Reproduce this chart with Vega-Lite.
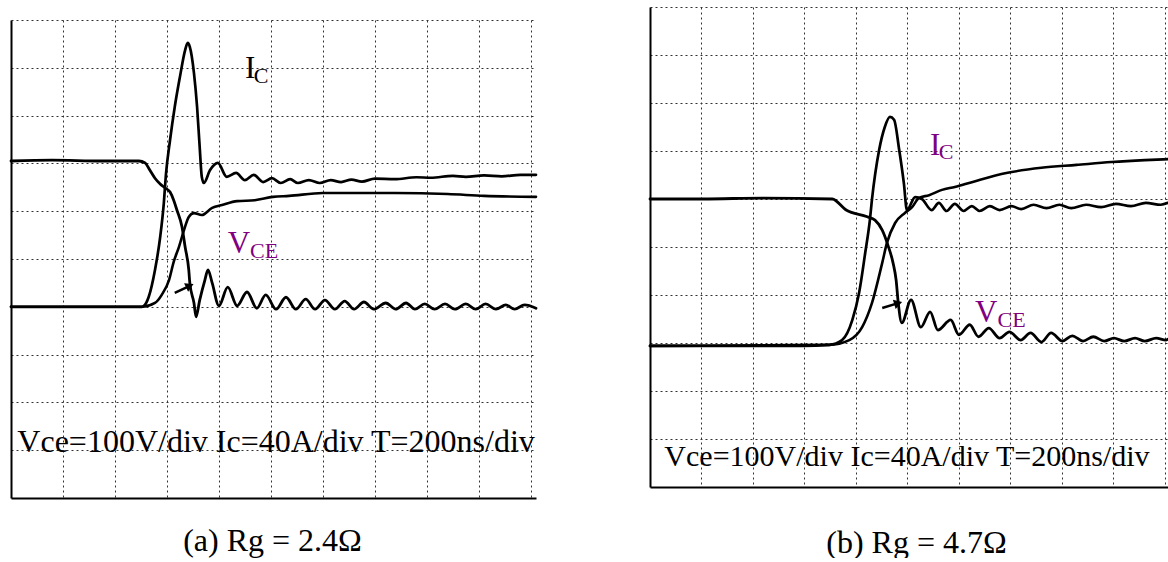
{
"$schema": "https://vega.github.io/schema/vega-lite/v6.json",
"background": "white",
"padding": {"left": 9, "top": 7, "right": 0, "bottom": 0},
"autosize": {"type": "pad"},
"spacing": 110,
"config": {"view": {"stroke": null}, "font": "Liberation Serif"},
"datasets": {
"trace": [
{"p":"a","s":"A","t":0,"v":7.05},{"p":"a","s":"A","t":0.79,"v":7.07},{"p":"a","s":"A","t":1.75,"v":7.05},{"p":"a","s":"A","t":2.46,"v":7.05},{"p":"a","s":"A","t":2.58,"v":7.01},{"p":"a","s":"A","t":2.67,"v":6.86},{"p":"a","s":"A","t":2.77,"v":6.69},{"p":"a","s":"A","t":2.87,"v":6.57},{"p":"a","s":"A","t":2.96,"v":6.49},{"p":"a","s":"A","t":3.06,"v":6.40},{"p":"a","s":"A","t":3.13,"v":6.23},{"p":"a","s":"A","t":3.19,"v":6.03},{"p":"a","s":"A","t":3.29,"v":5.67},{"p":"a","s":"A","t":3.35,"v":5.25},{"p":"a","s":"A","t":3.42,"v":4.77},{"p":"a","s":"A","t":3.44,"v":4.50},{"p":"a","s":"A","t":3.52,"v":4.08},{"p":"a","s":"A","t":3.56,"v":3.79},{"p":"a","s":"A","t":3.63,"v":4.14},{"p":"a","s":"A","t":3.73,"v":4.56},{"p":"a","s":"A","t":3.79,"v":4.77},{"p":"a","s":"A","t":3.87,"v":4.50},{"p":"a","s":"A","t":4.00,"v":4.02},{"p":"a","s":"A","t":4.17,"v":4.41},{"p":"a","s":"A","t":4.35,"v":4.02},{"p":"a","s":"A","t":4.54,"v":4.31},{"p":"a","s":"A","t":4.73,"v":3.97},{"p":"a","s":"A","t":4.90,"v":4.25},{"p":"a","s":"A","t":5.10,"v":3.95},{"p":"a","s":"A","t":5.29,"v":4.20},{"p":"a","s":"A","t":5.48,"v":3.95},{"p":"a","s":"A","t":5.67,"v":4.16},{"p":"a","s":"A","t":5.85,"v":3.95},{"p":"a","s":"A","t":6.04,"v":4.14},{"p":"a","s":"A","t":6.23,"v":3.95},{"p":"a","s":"A","t":6.42,"v":4.12},{"p":"a","s":"A","t":6.60,"v":3.95},{"p":"a","s":"A","t":6.79,"v":4.10},{"p":"a","s":"A","t":6.98,"v":3.95},{"p":"a","s":"A","t":7.21,"v":4.08},{"p":"a","s":"A","t":7.40,"v":3.95},{"p":"a","s":"A","t":7.60,"v":4.08},{"p":"a","s":"A","t":7.77,"v":3.95},{"p":"a","s":"A","t":7.96,"v":4.06},{"p":"a","s":"A","t":8.15,"v":3.95},{"p":"a","s":"A","t":8.35,"v":4.06},{"p":"a","s":"A","t":8.54,"v":3.95},{"p":"a","s":"A","t":8.75,"v":4.06},{"p":"a","s":"A","t":8.94,"v":3.95},{"p":"a","s":"A","t":9.13,"v":4.06},{"p":"a","s":"A","t":9.33,"v":3.95},{"p":"a","s":"A","t":9.52,"v":4.04},{"p":"a","s":"A","t":9.69,"v":3.95},{"p":"a","s":"A","t":9.88,"v":4.04},{"p":"a","s":"A","t":10.10,"v":3.97},
{"p":"a","s":"B","t":0,"v":4.00},{"p":"a","s":"B","t":1.75,"v":4.00},{"p":"a","s":"B","t":2.52,"v":4.00},{"p":"a","s":"B","t":2.56,"v":4.02},{"p":"a","s":"B","t":2.65,"v":4.21},{"p":"a","s":"B","t":2.77,"v":4.77},{"p":"a","s":"B","t":2.87,"v":5.46},{"p":"a","s":"B","t":2.94,"v":6.17},{"p":"a","s":"B","t":2.98,"v":6.76},{"p":"a","s":"B","t":3.06,"v":7.49},{"p":"a","s":"B","t":3.15,"v":8.18},{"p":"a","s":"B","t":3.25,"v":8.81},{"p":"a","s":"B","t":3.35,"v":9.37},{"p":"a","s":"B","t":3.40,"v":9.52},{"p":"a","s":"B","t":3.44,"v":9.44},{"p":"a","s":"B","t":3.52,"v":8.89},{"p":"a","s":"B","t":3.58,"v":8.18},{"p":"a","s":"B","t":3.63,"v":7.34},{"p":"a","s":"B","t":3.67,"v":6.72},{"p":"a","s":"B","t":3.71,"v":6.59},{"p":"a","s":"B","t":3.83,"v":6.86},{"p":"a","s":"B","t":3.98,"v":7.01},{"p":"a","s":"B","t":4.15,"v":6.72},{"p":"a","s":"B","t":4.33,"v":6.80},{"p":"a","s":"B","t":4.50,"v":6.65},{"p":"a","s":"B","t":4.67,"v":6.76},{"p":"a","s":"B","t":4.85,"v":6.61},{"p":"a","s":"B","t":5.02,"v":6.69},{"p":"a","s":"B","t":5.19,"v":6.59},{"p":"a","s":"B","t":5.37,"v":6.67},{"p":"a","s":"B","t":5.52,"v":6.59},{"p":"a","s":"B","t":5.73,"v":6.65},{"p":"a","s":"B","t":5.94,"v":6.59},{"p":"a","s":"B","t":6.15,"v":6.65},{"p":"a","s":"B","t":6.35,"v":6.61},{"p":"a","s":"B","t":6.55,"v":6.66},{"p":"a","s":"B","t":6.75,"v":6.62},{"p":"a","s":"B","t":7.00,"v":6.68},{"p":"a","s":"B","t":7.38,"v":6.67},{"p":"a","s":"B","t":7.80,"v":6.71},{"p":"a","s":"B","t":8.08,"v":6.70},{"p":"a","s":"B","t":8.50,"v":6.74},{"p":"a","s":"B","t":8.75,"v":6.72},{"p":"a","s":"B","t":9.10,"v":6.75},{"p":"a","s":"B","t":9.44,"v":6.73},{"p":"a","s":"B","t":9.80,"v":6.76},{"p":"a","s":"B","t":10.10,"v":6.76},
{"p":"a","s":"C","t":0,"v":4.00},{"p":"a","s":"C","t":2.52,"v":4.00},{"p":"a","s":"C","t":2.77,"v":4.08},{"p":"a","s":"C","t":2.90,"v":4.25},{"p":"a","s":"C","t":3.04,"v":4.56},{"p":"a","s":"C","t":3.13,"v":4.94},{"p":"a","s":"C","t":3.23,"v":5.25},{"p":"a","s":"C","t":3.33,"v":5.61},{"p":"a","s":"C","t":3.42,"v":5.88},{"p":"a","s":"C","t":3.52,"v":5.96},{"p":"a","s":"C","t":3.67,"v":5.92},{"p":"a","s":"C","t":3.87,"v":6.07},{"p":"a","s":"C","t":4.06,"v":6.13},{"p":"a","s":"C","t":4.35,"v":6.21},{"p":"a","s":"C","t":4.69,"v":6.23},{"p":"a","s":"C","t":5.04,"v":6.30},{"p":"a","s":"C","t":5.35,"v":6.32},{"p":"a","s":"C","t":6.00,"v":6.38},{"p":"a","s":"C","t":6.69,"v":6.38},{"p":"a","s":"C","t":7.38,"v":6.38},{"p":"a","s":"C","t":8.40,"v":6.36},{"p":"a","s":"C","t":9.10,"v":6.32},{"p":"a","s":"C","t":10.10,"v":6.30},
{"p":"b","s":"A","t":0,"v":6.00},{"p":"b","s":"A","t":1.03,"v":6.00},{"p":"b","s":"A","t":2.19,"v":6.02},{"p":"b","s":"A","t":3.54,"v":6.00},{"p":"b","s":"A","t":3.81,"v":5.77},{"p":"b","s":"A","t":4.22,"v":5.63},{"p":"b","s":"A","t":4.37,"v":5.56},{"p":"b","s":"A","t":4.51,"v":5.35},{"p":"b","s":"A","t":4.62,"v":5.04},{"p":"b","s":"A","t":4.72,"v":4.67},{"p":"b","s":"A","t":4.78,"v":4.31},{"p":"b","s":"A","t":4.82,"v":3.85},{"p":"b","s":"A","t":4.89,"v":3.42},{"p":"b","s":"A","t":5.07,"v":3.90},{"p":"b","s":"A","t":5.26,"v":3.33},{"p":"b","s":"A","t":5.44,"v":3.65},{"p":"b","s":"A","t":5.59,"v":3.27},{"p":"b","s":"A","t":5.84,"v":3.48},{"p":"b","s":"A","t":6.00,"v":3.17},{"p":"b","s":"A","t":6.21,"v":3.38},{"p":"b","s":"A","t":6.38,"v":3.13},{"p":"b","s":"A","t":6.58,"v":3.31},{"p":"b","s":"A","t":6.79,"v":3.10},{"p":"b","s":"A","t":6.98,"v":3.23},{"p":"b","s":"A","t":7.20,"v":3.06},{"p":"b","s":"A","t":7.39,"v":3.21},{"p":"b","s":"A","t":7.60,"v":3.02},{"p":"b","s":"A","t":7.79,"v":3.21},{"p":"b","s":"A","t":8.01,"v":3.04},{"p":"b","s":"A","t":8.20,"v":3.15},{"p":"b","s":"A","t":8.41,"v":3.04},{"p":"b","s":"A","t":8.61,"v":3.13},{"p":"b","s":"A","t":8.82,"v":3.04},{"p":"b","s":"A","t":9.01,"v":3.10},{"p":"b","s":"A","t":9.21,"v":3.04},{"p":"b","s":"A","t":9.42,"v":3.10},{"p":"b","s":"A","t":9.61,"v":3.04},{"p":"b","s":"A","t":9.83,"v":3.10},{"p":"b","s":"A","t":10.02,"v":3.06},{"p":"b","s":"A","t":10.06,"v":3.08},
{"p":"b","s":"B","t":0,"v":2.94},{"p":"b","s":"B","t":2.96,"v":2.94},{"p":"b","s":"B","t":3.48,"v":2.96},{"p":"b","s":"B","t":3.73,"v":3.06},{"p":"b","s":"B","t":3.93,"v":3.48},{"p":"b","s":"B","t":4.06,"v":4.04},{"p":"b","s":"B","t":4.18,"v":4.88},{"p":"b","s":"B","t":4.27,"v":5.56},{"p":"b","s":"B","t":4.31,"v":5.98},{"p":"b","s":"B","t":4.45,"v":7.02},{"p":"b","s":"B","t":4.56,"v":7.50},{"p":"b","s":"B","t":4.66,"v":7.71},{"p":"b","s":"B","t":4.74,"v":7.65},{"p":"b","s":"B","t":4.84,"v":7.02},{"p":"b","s":"B","t":4.93,"v":6.33},{"p":"b","s":"B","t":4.99,"v":5.77},{"p":"b","s":"B","t":5.15,"v":6.04},{"p":"b","s":"B","t":5.28,"v":6.00},{"p":"b","s":"B","t":5.47,"v":5.77},{"p":"b","s":"B","t":5.61,"v":5.92},{"p":"b","s":"B","t":5.76,"v":5.75},{"p":"b","s":"B","t":5.92,"v":5.90},{"p":"b","s":"B","t":6.09,"v":5.75},{"p":"b","s":"B","t":6.25,"v":5.85},{"p":"b","s":"B","t":6.40,"v":5.75},{"p":"b","s":"B","t":6.60,"v":5.85},{"p":"b","s":"B","t":6.79,"v":5.77},{"p":"b","s":"B","t":7.02,"v":5.85},{"p":"b","s":"B","t":7.21,"v":5.79},{"p":"b","s":"B","t":7.45,"v":5.88},{"p":"b","s":"B","t":7.70,"v":5.81},{"p":"b","s":"B","t":7.95,"v":5.88},{"p":"b","s":"B","t":8.18,"v":5.81},{"p":"b","s":"B","t":8.47,"v":5.88},{"p":"b","s":"B","t":8.76,"v":5.83},{"p":"b","s":"B","t":9.05,"v":5.90},{"p":"b","s":"B","t":9.34,"v":5.85},{"p":"b","s":"B","t":9.63,"v":5.92},{"p":"b","s":"B","t":9.92,"v":5.88},{"p":"b","s":"B","t":10.06,"v":5.92},
{"p":"b","s":"C","t":0,"v":2.94},{"p":"b","s":"C","t":3.48,"v":2.96},{"p":"b","s":"C","t":3.87,"v":3.06},{"p":"b","s":"C","t":4.12,"v":3.33},{"p":"b","s":"C","t":4.31,"v":3.83},{"p":"b","s":"C","t":4.51,"v":4.67},{"p":"b","s":"C","t":4.60,"v":5.08},{"p":"b","s":"C","t":4.76,"v":5.50},{"p":"b","s":"C","t":4.95,"v":5.71},{"p":"b","s":"C","t":5.09,"v":5.83},{"p":"b","s":"C","t":5.22,"v":6.02},{"p":"b","s":"C","t":5.42,"v":6.08},{"p":"b","s":"C","t":5.67,"v":6.19},{"p":"b","s":"C","t":5.92,"v":6.25},{"p":"b","s":"C","t":6.25,"v":6.35},{"p":"b","s":"C","t":6.92,"v":6.54},{"p":"b","s":"C","t":7.60,"v":6.65},{"p":"b","s":"C","t":8.28,"v":6.71},{"p":"b","s":"C","t":8.96,"v":6.77},{"p":"b","s":"C","t":9.61,"v":6.81},{"p":"b","s":"C","t":10.06,"v":6.83}
],
"labels": [
{"p":"a","k":"a-Ic","part":"main","text":"I","t":4.50,"v":8.79},
{"p":"a","k":"a-Ic","part":"sub","text":"C","t":4.67,"v":8.68},
{"p":"a","k":"a-Vce","part":"main","text":"V","t":4.17,"v":5.13},
{"p":"a","k":"a-Vce","part":"sub","text":"CE","t":4.60,"v":5.02},
{"p":"b","k":"b-Ic","part":"main","text":"I","t":5.44,"v":6.92},
{"p":"b","k":"b-Ic","part":"sub","text":"C","t":5.61,"v":6.83},
{"p":"b","k":"b-Vce","part":"main","text":"V","t":6.31,"v":3.44},
{"p":"b","k":"b-Vce","part":"sub","text":"CE","t":6.75,"v":3.33}
],
"notes": [
{"p":"a","text":"Vce=100V/div Ic=40A/div T=200ns/div","t":5.10,"v":0.96},
{"p":"b","text":"Vce=100V/div Ic=40A/div T=200ns/div","t":4.99,"v":0.44}
],
"arrows": [
{"p":"a","t":3.44,"v":4.44,"t2":3.15,"v2":4.29},
{"p":"b","t":4.82,"v":3.83,"t2":4.51,"v2":3.73}
]
},
"hconcat": [
{
"spacing": 0,
"vconcat": [
{"width": 525, "height": 13, "data": {"values": [{}]}, "mark": {"type": "text", "text": ""}},
{
"width": 525, "height": 478,
"encoding": {
"x": {"field": "t", "type": "quantitative", "scale": {"domain": [0, 10.1], "nice": false, "zero": false},
"axis": {"values": [1,2,3,4,5,6,7,8,9,10], "grid": true, "gridDash": [2,3], "gridColor": "#333333", "gridWidth": 1, "labels": false, "ticks": false, "domain": true, "domainColor": "black", "domainWidth": 2, "title": "(a) Rg = 2.4Ω", "titleFont": "Liberation Serif", "titleFontSize": 32, "titleFontWeight": "normal", "titleColor": "black", "titlePadding": 27, "titleX": 261}},
"y": {"field": "v", "type": "quantitative", "scale": {"domain": [0, 10], "nice": false, "zero": false},
"axis": {"values": [1,2,3,4,5,6,7,8,9,10], "grid": true, "gridDash": [2,3], "gridColor": "#333333", "gridWidth": 1, "labels": false, "ticks": false, "domain": true, "domainColor": "black", "domainWidth": 2, "title": null, "minExtent": 0}}
},
"layer": [
{"data": {"name": "trace"}, "transform": [{"filter": "datum.p === 'a'"}],
"mark": {"type": "line", "color": "black", "strokeJoin": "round", "strokeCap": "round", "interpolate": "monotone"},
"encoding": {"detail": {"field": "s", "type": "nominal"},
"strokeWidth": {"field": "s", "type": "nominal", "scale": {"domain": ["A","B","C"], "range": [2.8, 2.6, 1.3]}, "legend": null}}},
{"data": {"name": "arrows"}, "transform": [{"filter": "datum.p === 'a'"}],
"mark": {"type": "rule", "color": "black", "strokeWidth": 2.5},
"encoding": {"x2": {"field": "t2"}, "y2": {"field": "v2"}}},
{"data": {"name": "arrows"}, "transform": [{"filter": "datum.p === 'a'"}],
"mark": {"type": "point", "shape": "triangle-right", "filled": true, "color": "black", "opacity": 1, "size": 90, "angle": 335}},
{"data": {"name": "labels"}, "transform": [{"filter": "datum.p === 'a' && datum.part === 'main'"}],
"mark": {"type": "text", "align": "left", "baseline": "alphabetic", "fontSize": 31, "font": "Liberation Serif"},
"encoding": {"text": {"field": "text"}, "color": {"field": "k", "type": "nominal", "scale": {"domain": ["a-Ic","a-Vce"], "range": ["#000000","#800080"]}, "legend": null}}},
{"data": {"name": "labels"}, "transform": [{"filter": "datum.p === 'a' && datum.part === 'sub'"}],
"mark": {"type": "text", "align": "left", "baseline": "alphabetic", "fontSize": 22, "font": "Liberation Serif"},
"encoding": {"text": {"field": "text"}, "color": {"field": "k", "type": "nominal", "scale": {"domain": ["a-Ic","a-Vce"], "range": ["#000000","#800080"]}, "legend": null}}},
{"data": {"name": "notes"}, "transform": [{"filter": "datum.p === 'a'"}],
"mark": {"type": "text", "align": "center", "baseline": "alphabetic", "fontSize": 32, "font": "Liberation Serif", "color": "black"},
"encoding": {"text": {"field": "text"}}}
]
}
]
},
{
"width": 518, "height": 480,
"encoding": {
"x": {"field": "t", "type": "quantitative", "scale": {"domain": [0, 10.06], "nice": false, "zero": false},
"axis": {"values": [1,2,3,4,5,6,7,8,9,10], "grid": true, "gridDash": [2,3], "gridColor": "#333333", "gridWidth": 1, "labels": false, "ticks": false, "domain": true, "domainColor": "black", "domainWidth": 2, "title": "(b) Rg = 4.7Ω", "titleFont": "Liberation Serif", "titleFontSize": 32, "titleFontWeight": "normal", "titleColor": "black", "titlePadding": 40, "titleX": 266}},
"y": {"field": "v", "type": "quantitative", "scale": {"domain": [0, 10], "nice": false, "zero": false},
"axis": {"values": [1,2,3,4,5,6,7,8,9,10], "grid": true, "gridDash": [2,3], "gridColor": "#333333", "gridWidth": 1, "labels": false, "ticks": false, "domain": true, "domainColor": "black", "domainWidth": 2, "title": null, "minExtent": 0}}
},
"layer": [
{"data": {"name": "trace"}, "transform": [{"filter": "datum.p === 'b'"}],
"mark": {"type": "line", "color": "black", "strokeJoin": "round", "strokeCap": "round", "interpolate": "monotone"},
"encoding": {"detail": {"field": "s", "type": "nominal"},
"strokeWidth": {"field": "s", "type": "nominal", "scale": {"domain": ["A","B","C"], "range": [2.8, 1.7, 2.2]}, "legend": null}}},
{"data": {"name": "arrows"}, "transform": [{"filter": "datum.p === 'b'"}],
"mark": {"type": "rule", "color": "black", "strokeWidth": 2.5},
"encoding": {"x2": {"field": "t2"}, "y2": {"field": "v2"}}},
{"data": {"name": "arrows"}, "transform": [{"filter": "datum.p === 'b'"}],
"mark": {"type": "point", "shape": "triangle-right", "filled": true, "color": "black", "opacity": 1, "size": 90, "angle": 343}},
{"data": {"name": "labels"}, "transform": [{"filter": "datum.p === 'b' && datum.part === 'main'"}],
"mark": {"type": "text", "align": "left", "baseline": "alphabetic", "fontSize": 31, "font": "Liberation Serif", "color": "#800080"},
"encoding": {"text": {"field": "text"}}},
{"data": {"name": "labels"}, "transform": [{"filter": "datum.p === 'b' && datum.part === 'sub'"}],
"mark": {"type": "text", "align": "left", "baseline": "alphabetic", "fontSize": 22, "font": "Liberation Serif", "color": "#800080"},
"encoding": {"text": {"field": "text"}}},
{"data": {"name": "notes"}, "transform": [{"filter": "datum.p === 'b'"}],
"mark": {"type": "text", "align": "center", "baseline": "alphabetic", "fontSize": 30, "font": "Liberation Serif", "color": "black"},
"encoding": {"text": {"field": "text"}}}
]
}
]
}
